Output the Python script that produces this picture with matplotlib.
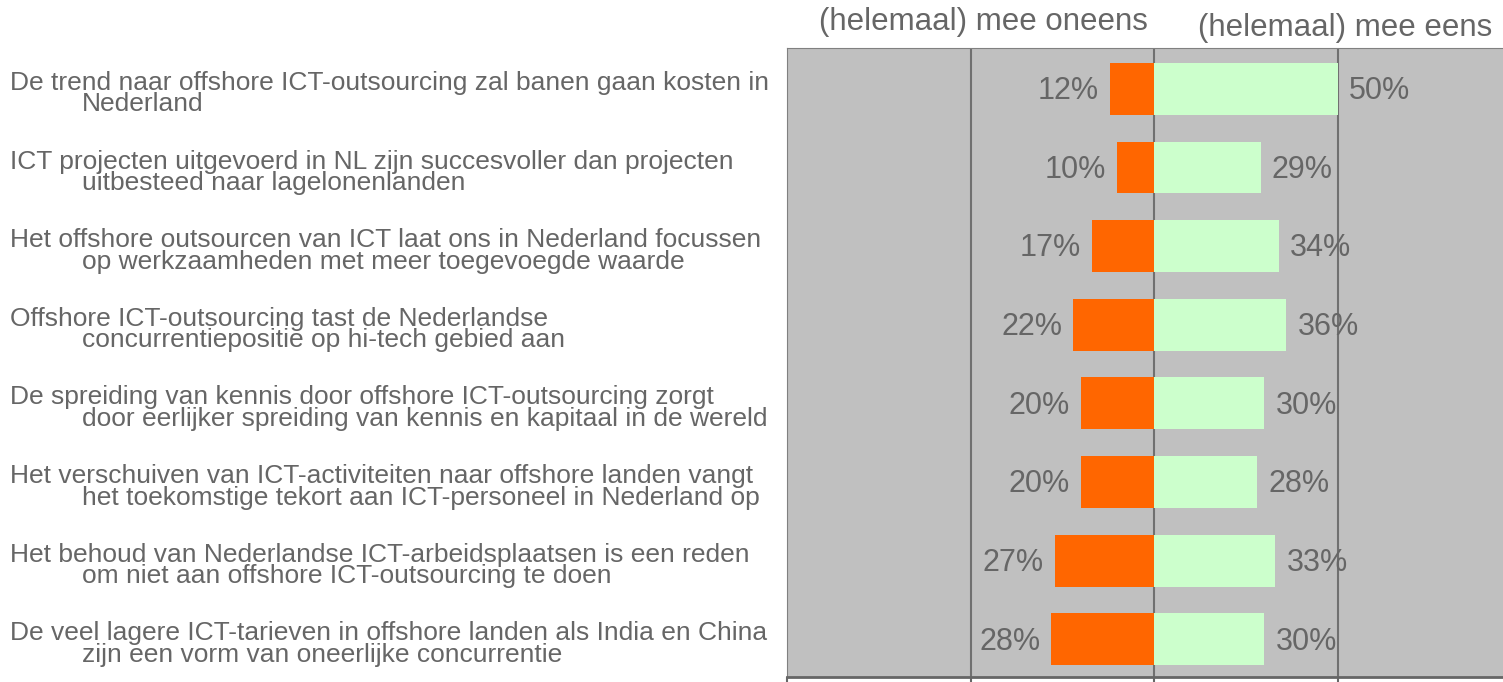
import numpy as np
import matplotlib
matplotlib.use("Agg")
import matplotlib.pyplot as plt
from matplotlib.transforms import blended_transform_factory, ScaledTranslation

# data
statements = [
    "De trend naar offshore ICT-outsourcing zal banen gaan kosten in\nNederland",
    "ICT projecten uitgevoerd in NL zijn succesvoller dan projecten\nuitbesteed naar lagelonenlanden",
    "Het offshore outsourcen van ICT laat ons in Nederland focussen\nop werkzaamheden met meer toegevoegde waarde",
    "Offshore ICT-outsourcing tast de Nederlandse\nconcurrentiepositie op hi-tech gebied aan",
    "De spreiding van kennis door offshore ICT-outsourcing zorgt\ndoor eerlijker spreiding van kennis en kapitaal in de wereld",
    "Het verschuiven van ICT-activiteiten naar offshore landen vangt\nhet toekomstige tekort aan ICT-personeel in Nederland op",
    "Het behoud van Nederlandse ICT-arbeidsplaatsen is een reden\nom niet aan offshore ICT-outsourcing te doen",
    "De veel lagere ICT-tarieven in offshore landen als India en China\nzijn een vorm van oneerlijke concurrentie",
]
disagree = [12, 10, 17, 22, 20, 20, 27, 28]
agree = [50, 29, 34, 36, 30, 28, 33, 30]
header_left = "(helemaal) mee oneens"
header_right = "(helemaal) mee eens"

GREY_TXT = "#666666"
ORANGE = "#FF6600"
GREEN = "#CCFFCC"
BG = "#C0C0C0"
FONT = ["Liberation Sans", "DejaVu Sans"]

fig = plt.figure(figsize=(15.03, 6.82), dpi=100)
ax = fig.add_axes([787 / 1503, 5 / 682, 1 - 787 / 1503, 629 / 682])
ax.set_facecolor(BG)

y = np.arange(len(statements))
ax.barh(y, [-d for d in disagree], height=0.66, color=ORANGE, zorder=3)
ax.barh(y, agree, height=0.66, color=GREEN, zorder=3)

for xv in (-50, 0, 50):
    ax.axvline(xv, color="#707070", lw=1.5, zorder=2)

ax.set_xlim(-100, 95)
ax.set_ylim(len(statements) - 0.52, -0.52)

for yi, d, a in zip(y, disagree, agree):
    ax.text(-d - 3, yi + 0.03, f"{d}%", ha="right", va="center", fontsize=22,
            color=GREY_TXT, family=FONT, zorder=4)
    ax.text(a + 3, yi + 0.03, f"{a}%", ha="left", va="center", fontsize=22,
            color=GREY_TXT, family=FONT, zorder=4)

# statement labels, second line indented
trans = blended_transform_factory(fig.transFigure, ax.transData)
for yi, s in zip(y, statements):
    first, second = s.split("\n")
    ax.text(10 / 1503, yi, first, transform=trans + ScaledTranslation(0, -0.01, fig.dpi_scale_trans),
            ha="left", va="baseline", fontsize=19, color=GREY_TXT, family=FONT, clip_on=False)
    ax.text(82 / 1503, yi, second, transform=trans + ScaledTranslation(0, -0.225, fig.dpi_scale_trans),
            ha="left", va="baseline", fontsize=19, color=GREY_TXT, family=FONT, clip_on=False)

fig.text(983 / 1503, 1 - 22 / 682, header_left, ha="center", va="center",
         fontsize=22.5, color=GREY_TXT, family=FONT)
fig.text(1345 / 1503, 1 - 28 / 682, header_right, ha="center", va="center",
         fontsize=22.5, color=GREY_TXT, family=FONT)

ax.spines["right"].set_visible(False)
ax.spines["top"].set_color("#808080")
ax.spines["left"].set_color("#808080")
ax.spines["bottom"].set_color("#666666")
ax.spines["bottom"].set_linewidth(2)
ax.set_yticks([])
ax.set_xticks([-100, -50, 0, 50])
ax.set_xticklabels([])
ax.tick_params(axis="x", direction="out", length=6, width=1.5, color="#666666")

fig.savefig("out.png", dpi=100)
